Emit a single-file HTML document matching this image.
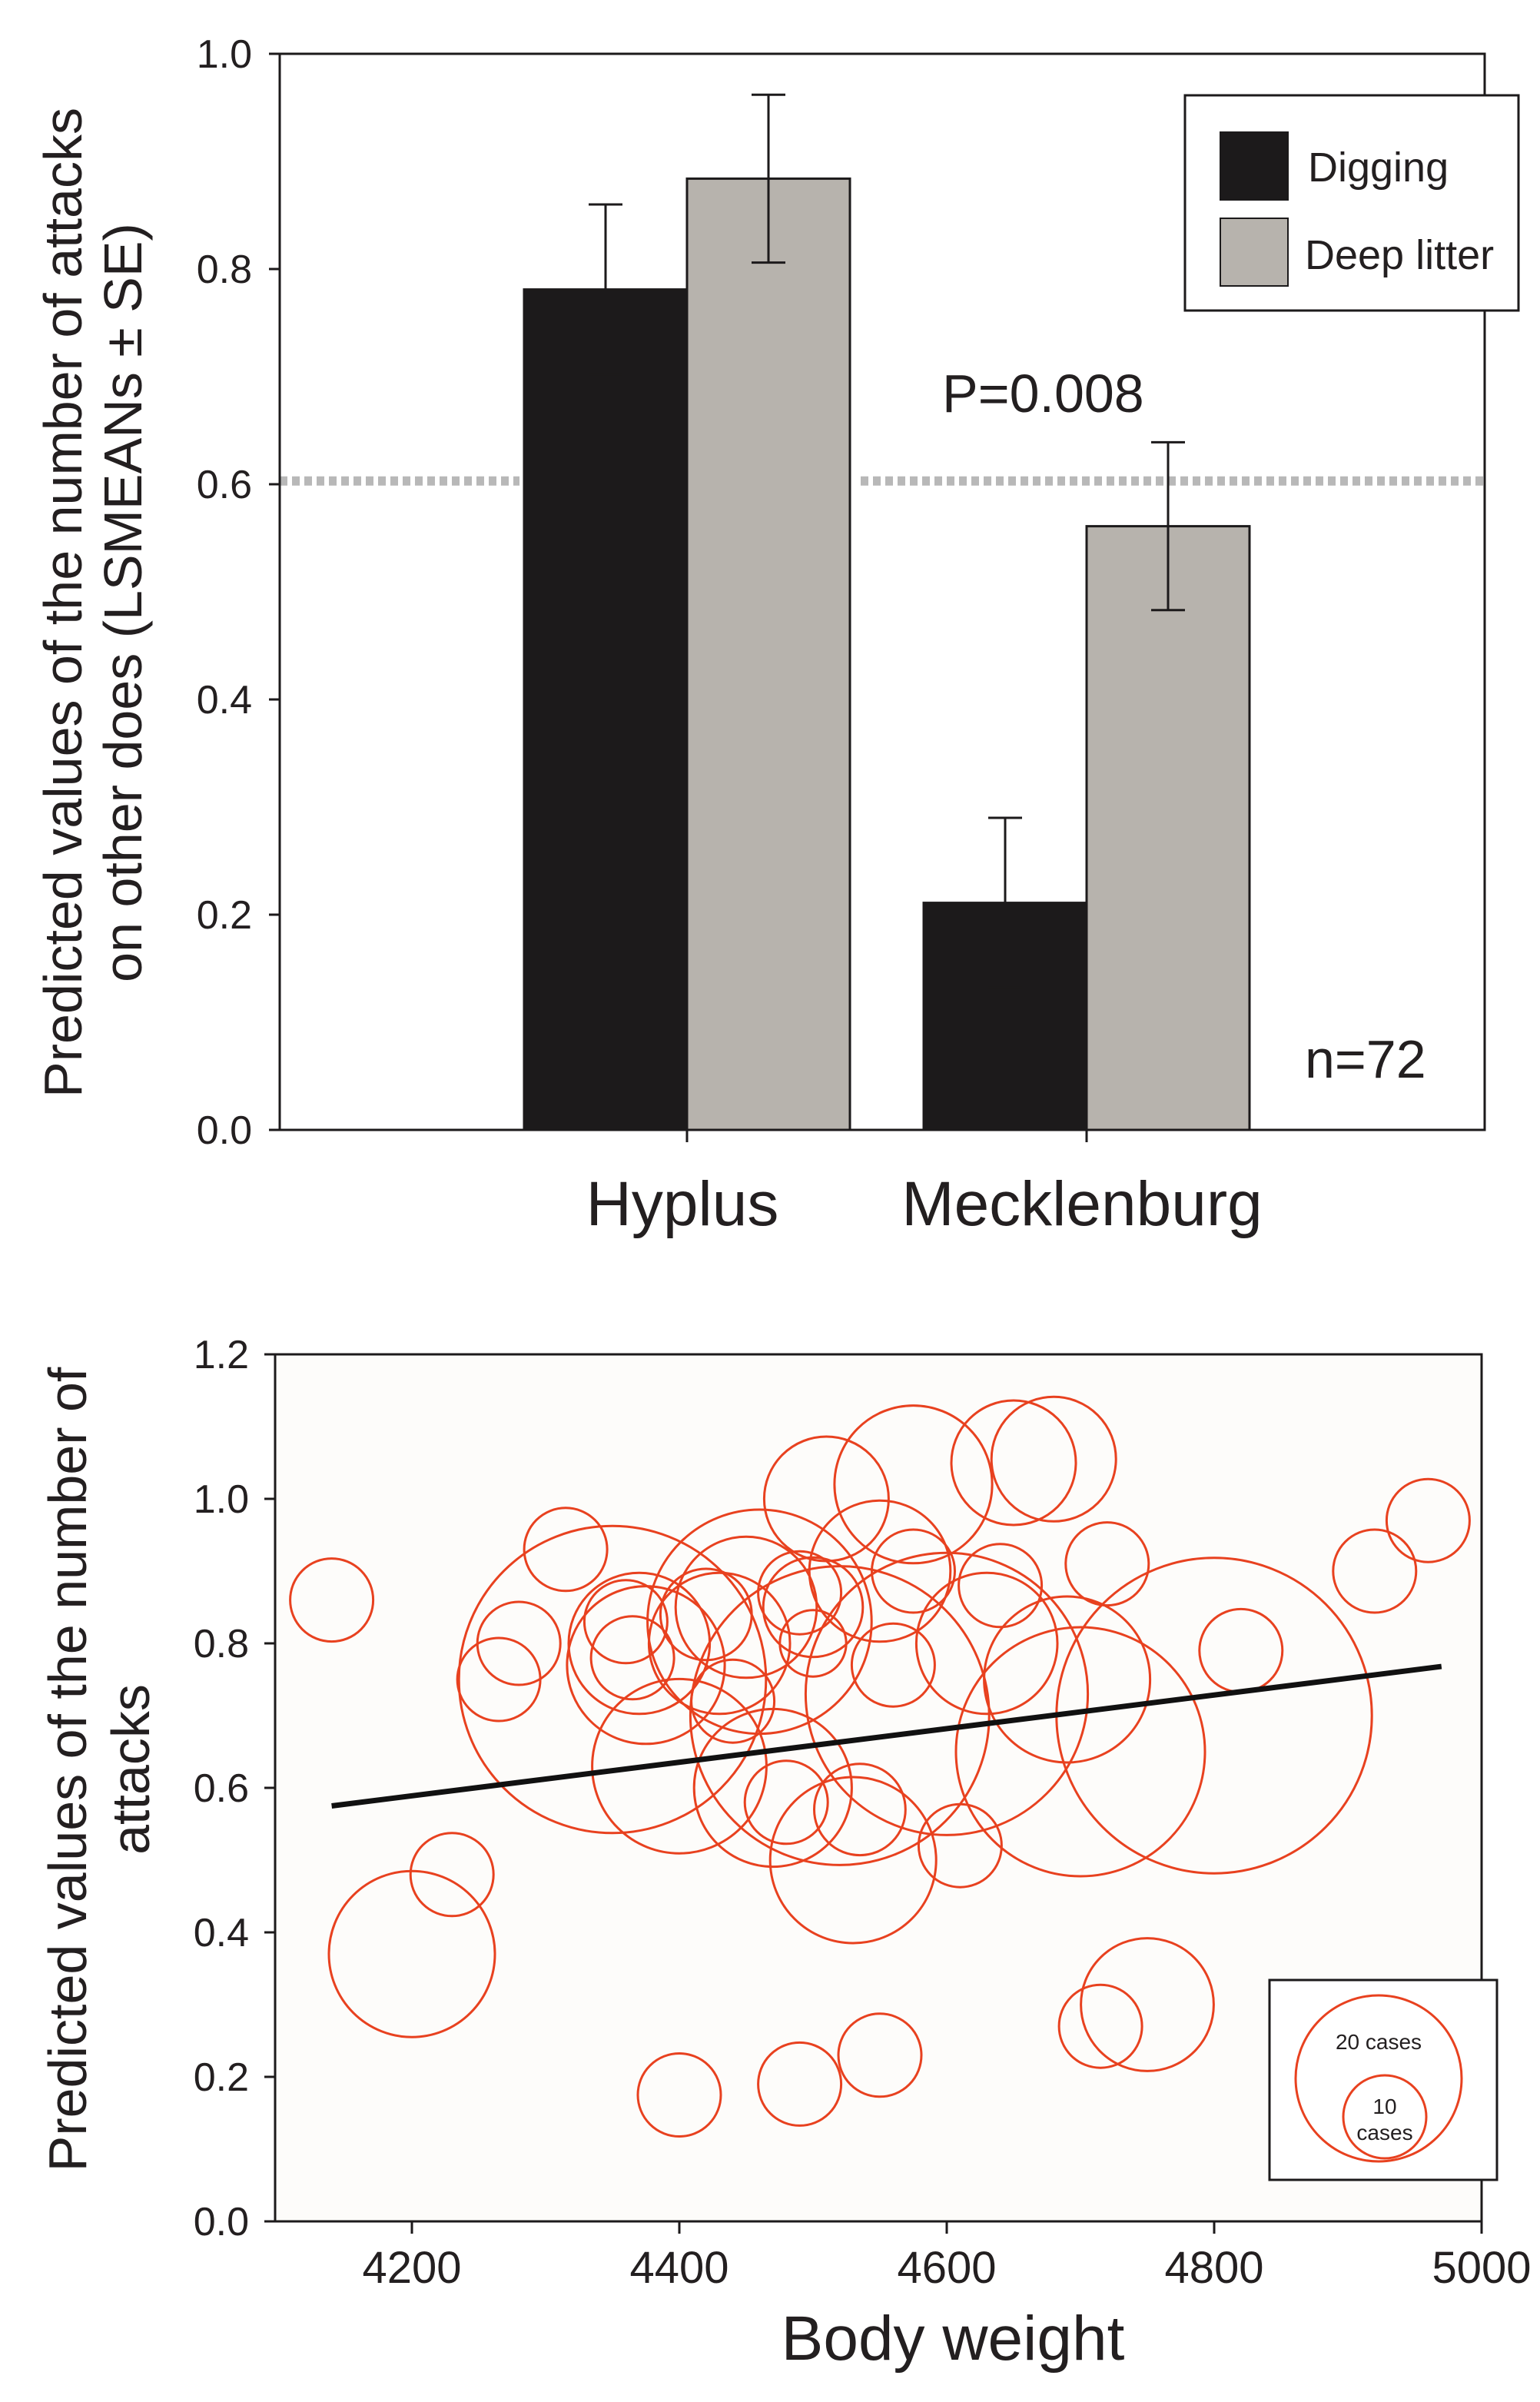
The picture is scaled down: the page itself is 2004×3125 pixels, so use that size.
<!DOCTYPE html>
<html><head><meta charset="utf-8"><style>
html,body{margin:0;padding:0;background:#fff}
svg{display:block}
text{font-family:"Liberation Sans",Arial,sans-serif;fill:#231f20}
</style></head><body>
<svg id="fig" width="2004" height="3125" viewBox="0 0 1002 1562.5" xmlns="http://www.w3.org/2000/svg">
<g id="topchart"></g>
<g id="botchart"></g>
</svg>
<script>
// ---- Top chart data ----
const barCats = ["Hyplus", "Mecklenburg"];
const diggingVals = [0.781, 0.211];
const diggingErr = [0.079, 0.079];
const litterVals = [0.884, 0.561];
const litterErr = [0.078, 0.078];
const topTicks = [0.0, 0.2, 0.4, 0.6, 0.8, 1.0];
const refLineVal = 0.603;

// ---- Bottom chart data ----
const bwX = [4140,4200,4230,4265,4280,4315,4350,4360,4365,4370,4375,4400,4400,4420,4430,4440,4450,4460,4470,4480,4490,4490,4500,4500,4510,4520,4530,4535,4550,4550,4560,4575,4575,4600,4610,4630,4640,4650,4680,4690,4700,4715,4720,4750,4800,4820,4920,4960];
const bwY = [0.86,0.37,0.48,0.75,0.80,0.93,0.75,0.83,0.78,0.80,0.77,0.63,0.175,0.84,0.80,0.72,0.85,0.83,0.60,0.58,0.19,0.87,0.80,0.85,1.00,0.70,0.50,0.57,0.23,0.90,0.77,1.02,0.90,0.73,0.52,0.80,0.88,1.05,1.055,0.75,0.65,0.27,0.91,0.30,0.70,0.79,0.90,0.97];
const bwCases = [10,20,10,10,10,10,37,10,10,17,19,21,10,11,17,10,17,27,19,10,10,10,8,12,15,36,20,11,10,17,10,19,10,34,10,17,10,15,15,20,30,10,10,16,38,10,10,10];
const xTicks = [4200,4400,4600,4800,5000];
const yTicks2 = [0.0,0.2,0.4,0.6,0.8,1.0,1.2];
const regX = [4140, 4970];
const regY = [0.575, 0.768];

const NS = "http://www.w3.org/2000/svg";
function mk(parent, tag, attrs, txt){
  const e = document.createElementNS(NS, tag);
  for (const k in attrs) e.setAttribute(k, attrs[k]);
  if (txt !== undefined) e.textContent = txt;
  parent.appendChild(e);
  return e;
}

// ===== Top chart =====
const topG = document.getElementById('topchart');
const L1=182,R1=966,T1=35,B1=735;
const y1 = v => B1 - v*(B1-T1);
const catCenters = [447, 707];
const bw = 106;
let rl = mk(topG,'line',{x1:L1,x2:338,y1:y1(refLineVal),y2:y1(refLineVal),stroke:'#b8b8b8','stroke-width':6,'stroke-dasharray':'5,3'});


rl = mk(topG,'line',{x1:560,x2:R1,y1:y1(refLineVal),y2:y1(refLineVal),stroke:'#b8b8b8','stroke-width':6,'stroke-dasharray':'5,3'});


barCats.forEach((c,i)=>{
  const cx = catCenters[i];
  const series = [[diggingVals[i],diggingErr[i],'#1c1a1b',cx-bw,'digging'],[litterVals[i],litterErr[i],'#b7b3ad',cx,'deep-litter']];
  series.forEach(s=>{
    const r = mk(topG,'rect',{x:s[3],y:y1(s[0]),width:bw,height:y1(0)-y1(s[0]),fill:s[2],stroke:'#1c1a1b','stroke-width':1.5});
    
    
    const mx = s[3]+bw/2;
    const eb = mk(topG,'path',{d:`M${mx},${y1(s[0]-s[1])}V${y1(s[0]+s[1])}M${mx-11},${y1(s[0]+s[1])}H${mx+11}M${mx-11},${y1(s[0]-s[1])}H${mx+11}`,stroke:'#1c1a1b','stroke-width':1.5,fill:'none'});
    
    
  });
  const tk = mk(topG,'line',{x1:cx,x2:cx,y1:B1,y2:B1+8,stroke:'#1c1a1b','stroke-width':1.5});
  
  
  const lb = mk(topG,'text',{x:cx-3,y:797,'font-size':41,'text-anchor':'middle'},c);
  
  
});
let fr = mk(topG,'rect',{x:L1,y:T1,width:R1-L1,height:B1-T1,fill:'none',stroke:'#1c1a1b','stroke-width':1.5});


topTicks.forEach(v=>{
  const t = mk(topG,'line',{x1:L1-7,x2:L1,y1:y1(v),y2:y1(v),stroke:'#1c1a1b','stroke-width':1.5});
  
  
  const l = mk(topG,'text',{x:L1-18,y:y1(v)+9,'font-size':26,'text-anchor':'end'},v.toFixed(1));
  
  
});
let yt = mk(topG,'text',{transform:'translate(53,392) rotate(-90)','font-size':35,'text-anchor':'middle'},'Predicted values of the number of attacks');


yt = mk(topG,'text',{transform:'translate(92,392) rotate(-90)','font-size':35,'text-anchor':'middle'},'on other does (LSMEANs ± SE)');


let pv = mk(topG,'text',{x:613,y:268,'font-size':35},'P=0.008');


let nn = mk(topG,'text',{x:849,y:701,'font-size':35},'n=72');


const lg = mk(topG,'g',{});


mk(lg,'rect',{x:771,y:62,width:217,height:140,fill:'#fff',stroke:'#1c1a1b','stroke-width':1.5});
let le = mk(lg,'rect',{x:794,y:86,width:44,height:44,fill:'#1c1a1b',stroke:'#1c1a1b'});


mk(lg,'text',{x:851,y:118,'font-size':27},'Digging');
le = mk(lg,'rect',{x:794,y:142,width:44,height:44,fill:'#b7b3ad',stroke:'#1c1a1b'});


mk(lg,'text',{x:849,y:175,'font-size':27},'Deep litter');

// ===== Bottom chart =====
const botG = document.getElementById('botchart');
const L2=179,R2=964,T2=881,B2=1445;
const x2 = v => 268 + (v-4200)*(964-268)/800;
const y2 = v => B2 - v*(B2-T2)/1.2;
const rOf = n => 2.7*n;
let bg = mk(botG,'rect',{x:L2,y:T2,width:R2-L2,height:B2-T2,fill:'#fdfcfa'});


const cg = mk(botG,'g',{});


bwX.forEach((xv,i)=>{
  const c = mk(cg,'circle',{cx:x2(xv),cy:y2(bwY[i]),r:rOf(bwCases[i]),fill:'none',stroke:'#e8411f','stroke-width':1.5});
  
  
});
let rg = mk(botG,'line',{x1:x2(regX[0]),y1:y2(regY[0]),x2:x2(regX[1]),y2:y2(regY[1]),stroke:'#111','stroke-width':3.5});


fr = mk(botG,'rect',{x:L2,y:T2,width:R2-L2,height:B2-T2,fill:'none',stroke:'#1c1a1b','stroke-width':1.5});


yTicks2.forEach(v=>{
  const t = mk(botG,'line',{x1:L2-7,x2:L2,y1:y2(v),y2:y2(v),stroke:'#1c1a1b','stroke-width':1.5});
  
  
  const l = mk(botG,'text',{x:L2-17,y:y2(v)+9,'font-size':26,'text-anchor':'end'},v.toFixed(1));
  
  
});
xTicks.forEach(v=>{
  const t = mk(botG,'line',{x1:x2(v),x2:x2(v),y1:B2,y2:B2+8,stroke:'#1c1a1b','stroke-width':1.5});
  
  
  const l = mk(botG,'text',{x:x2(v),y:B2+40,'font-size':29,'text-anchor':'middle'},String(v));
  
  
});
let xt = mk(botG,'text',{x:620,y:1535,'font-size':41,'text-anchor':'middle'},'Body weight');


yt = mk(botG,'text',{transform:'translate(56,1151) rotate(-90)','font-size':35,'text-anchor':'middle'},'Predicted values of the number of');


yt = mk(botG,'text',{transform:'translate(97,1151) rotate(-90)','font-size':35,'text-anchor':'middle'},'attacks');


const lg2 = mk(botG,'g',{});


mk(lg2,'rect',{x:826,y:1288,width:148,height:130,fill:'#fff',stroke:'#1c1a1b','stroke-width':1.5});
mk(lg2,'circle',{cx:897,cy:1352,r:54,fill:'none',stroke:'#e8411f','stroke-width':1.5});
mk(lg2,'circle',{cx:901,cy:1377,r:27,fill:'none',stroke:'#e8411f','stroke-width':1.5});
mk(lg2,'text',{x:897,y:1333,'font-size':14,'text-anchor':'middle'},'20 cases');
mk(lg2,'text',{x:901,y:1375,'font-size':14,'text-anchor':'middle'},'10');
mk(lg2,'text',{x:901,y:1392,'font-size':14,'text-anchor':'middle'},'cases');
</script>
</body></html>
